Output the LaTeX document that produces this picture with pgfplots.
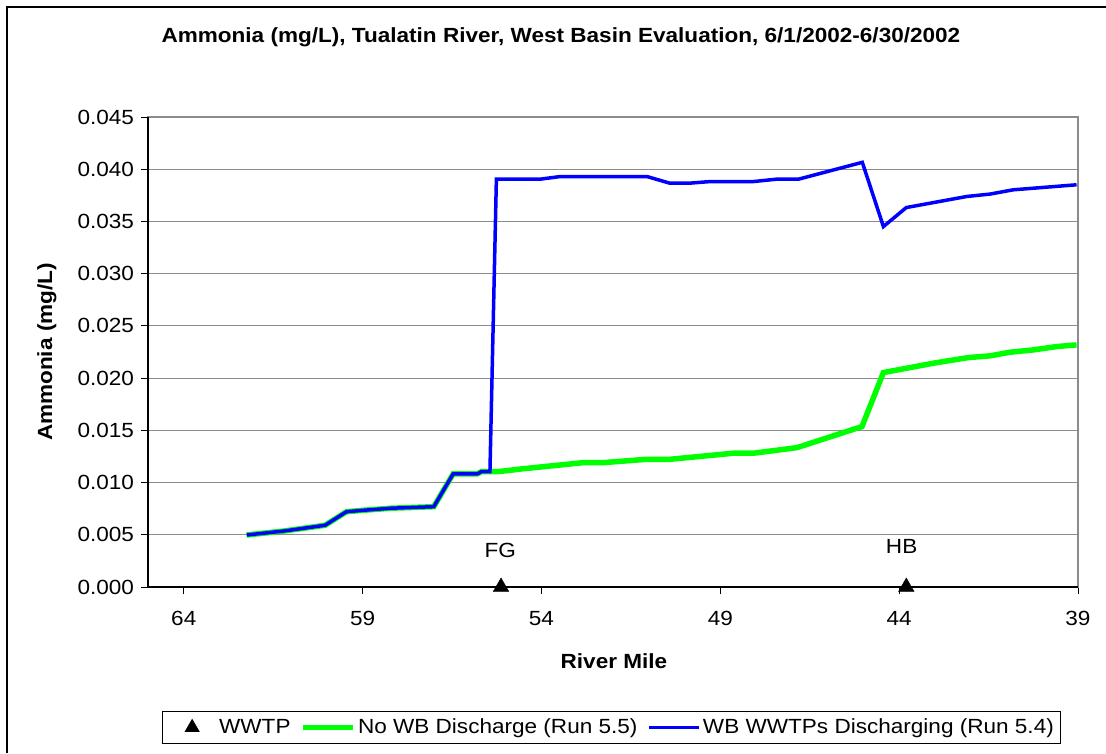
\documentclass[border=0pt]{standalone}
\usepackage{fontspec}
\setmainfont{Liberation Sans}[FakeStretch=1.1]
\usepackage{pgfplots}
\pgfplotsset{compat=1.18}
\newcommand{\ff}{\fontsize{20.5}{24}\selectfont}
\definecolor{gridgray}{HTML}{8C8C8C}
\pgfplotsset{
  linelegend/.style={legend image code/.code={\draw[##1] (0pt,0pt) -- (50pt,0pt);}},
  marklegend/.style={legend image code/.code={\path[draw=none] (0pt,0pt) -- (50pt,0pt); \draw[##1] plot coordinates {(25pt,0pt)};}},
}
\begin{document}
\ff
\begin{tikzpicture}
\path[use as bounding box] (0,0) rectangle (1106pt,753pt);
\draw[line width=1.3pt] (7pt,0pt) -- (7pt,746pt) -- (1106pt,746pt);
\begin{axis}[
  at={(148pt,166pt)}, anchor=south west,
  scale only axis, width=930pt, height=470pt,
  x dir=reverse, xmin=39, xmax=65, ymin=0, ymax=0.045,
  xtick={64,59,54,49,44,39},
  ytick={0,0.005,0.010,0.015,0.020,0.025,0.030,0.035,0.040,0.045},
  scaled y ticks=false,
  yticklabel style={/pgf/number format/.cd, fixed, fixed zerofill, precision=3, assume math mode=true},
  xticklabel style={/pgf/number format/assume math mode=true, yshift=-10pt},
  tick label style={font=\ff},
  tick align=outside, xtick pos=left, ytick pos=left,
  major tick length=7pt,
  tick style={black, line width=0.8pt},
  ymajorgrids, grid style={gridgray, line width=0.9pt},
  axis line style={gridgray, line width=1.3pt},
  clip mode=individual,
  title={Ammonia (mg/L), Tualatin River, West Basin Evaluation, 6/1/2002-6/30/2002},
  title style={font=\bfseries\ff, at={(axis description cs:0.444,1.157)}, anchor=center},
  xlabel={River Mile},
  xlabel style={font=\bfseries\ff, at={(axis description cs:0.501,-0.157)}, anchor=center},
  ylabel={Ammonia (mg/L)},
  ylabel style={font=\bfseries\ff, at={(axis description cs:-0.1086,0.5)}, anchor=center},
  legend columns=-1,
  legend style={at={(axis description cs:0.4984,-0.299)}, anchor=center, font=\ff,
    draw=black, line width=0.8pt, inner xsep=5pt, inner ysep=5pt,
    /tikz/every even column/.append style={column sep=8pt}},
  linelegend,
  after end axis/.code={
    \draw[black, line width=1.3pt] (rel axis cs:0,1) -- (rel axis cs:0,0) -- (rel axis cs:1,0);
  },
]
\addplot[only marks, mark=triangle*, mark size=9pt, black, forget plot] coordinates {(55.13,0) (43.8,0)};
\addlegendimage{only marks, mark=triangle*, mark size=8pt, black, marklegend}
\addlegendentry{WWTP}
\addplot[color={rgb,255:red,0;green,255;blue,0}, line width=5.5pt] coordinates {
(62.24,0.00498) (61.20,0.00536) (60.05,0.00591) (59.45,0.00721) (58.96,0.00735) (58.22,0.00754)
(57.01,0.00769) (56.47,0.01082) (55.80,0.01082) (55.68,0.01104) (55.44,0.01104)
(55.24,0.01104) (54.96,0.01114) (54.63,0.01128) (52.82,0.01191) (52.26,0.01191)
(51.05,0.01223) (50.40,0.01223) (48.63,0.01281) (48.07,0.01281) (46.86,0.01334)
(45.04,0.01536) (44.44,0.02053) (43.04,0.02143) (42.06,0.02197) (41.46,0.02213)
(40.90,0.02248) (40.25,0.02270) (39.60,0.02302) (39.04,0.02318)};
\addlegendentry{No WB Discharge (Run 5.5)}
\addplot[color={rgb,255:red,0;green,0;blue,255}, line width=3.5pt] coordinates {
(62.24,0.00498) (61.20,0.00536) (60.05,0.00591) (59.45,0.00721) (58.96,0.00735) (58.22,0.00754)
(57.01,0.00769) (56.47,0.01082) (55.80,0.01082) (55.68,0.01104) (55.44,0.01104)
(55.26,0.03905) (54.03,0.03905) (53.47,0.03930) (51.05,0.03930) (50.42,0.03867)
(49.84,0.03867) (49.28,0.03882) (48.07,0.03882) (47.42,0.03905) (46.81,0.03905)
(45.03,0.04066) (44.44,0.03451) (43.80,0.03633) (42.11,0.03739) (41.46,0.03762)
(40.81,0.03803) (39.04,0.03851)};
\addlegendentry{WB WWTPs Discharging (Run 5.4)}
\node[font=\ff, inner sep=2pt] at (axis cs:55.15,0.00348) {FG};
\node[font=\ff, fill=white, inner sep=3pt] at (axis cs:43.93,0.00386) {HB};
\end{axis}
\end{tikzpicture}
\end{document}
